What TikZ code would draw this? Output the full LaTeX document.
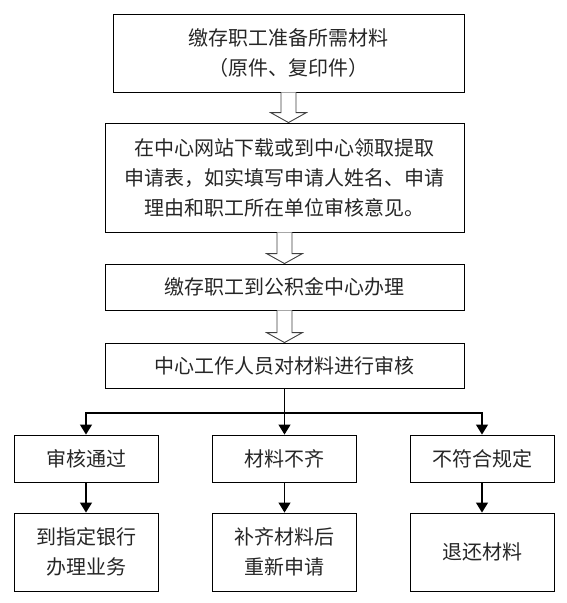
\documentclass[tikz,border=0pt]{standalone}
\usepackage{fontspec}
\newfontfamily\cjk{Noto Sans CJK SC}
\usetikzlibrary{arrows.meta,calc}
\tikzset{
  box/.style={draw=black, line width=0.9pt, minimum width=#1, inner sep=0pt, align=center,
    font=\cjk\fontsize{20}{30}\selectfont, text=black!85},
  box/.default=144pt,
  arr/.style={line width=1.3pt, -{Triangle[width=12pt,length=10pt]}},
  link/.style={line width=1.3pt},
  hollow/.style={draw=black!75, line width=0.9pt, fill=white}
}
\newcommand{\hollowarrow}[2]{%
  \draw[hollow] let \p1=(#1.south), \p2=(#2.north) in
    (\x1-7.5pt,\y1) -- (\x1-7.5pt,\y2+10pt) -- (\x1-18pt,\y2+10pt) -- (\x1,\y2)
    -- (\x1+18pt,\y2+10pt) -- (\x1+7.5pt,\y2+10pt) -- (\x1+7.5pt,\y1);}
\begin{document}
\begin{tikzpicture}[x=1pt,y=-1pt]
\useasboundingbox (0,0) rectangle (566,603);
\node[box=351pt, minimum height=78pt] (b1) at (288.5,53) {缴存职工准备所需材料\\（原件、复印件）};
\node[box=359pt, minimum height=109pt] (b2) at (284.5,177.5) {在中心网站下载或到中心领取提取\\申请表，如实填写申请人姓名、申请\\理由和职工所在单位审核意见。};
\node[box=359pt, minimum height=46pt] (b3) at (284.5,287) {缴存职工到公积金中心办理};
\node[box=359pt, minimum height=45pt] (b4) at (284.5,365.5) {中心工作人员对材料进行审核};
\node[box, minimum height=47pt] (a1) at (86,458.5) {审核通过};
\node[box, minimum height=47pt] (m1) at (284.5,458.5) {材料不齐};
\node[box, minimum height=47pt] (c1) at (482,458.5) {不符合规定};
\node[box, minimum height=78pt] (a2) at (86,552) {到指定银行\\办理业务};
\node[box, minimum height=78pt] (m2) at (284.5,552) {补齐材料后\\重新申请};
\node[box, minimum height=78pt] (c2) at (482,552) {退还材料};
\coordinate (j) at (284.5,413);
\hollowarrow{b1}{b2}
\hollowarrow{b2}{b3}
\hollowarrow{b3}{b4}
\draw[link] (b4.south) -- (j);
\draw[arr] (j) -| (a1.north);
\draw[arr] (j) -| (c1.north);
\draw[arr] (j) -- (m1.north);
\draw[arr] (a1) -- (a2);
\draw[arr] (m1) -- (m2);
\draw[arr] (c1) -- (c2);
\end{tikzpicture}
\end{document}
